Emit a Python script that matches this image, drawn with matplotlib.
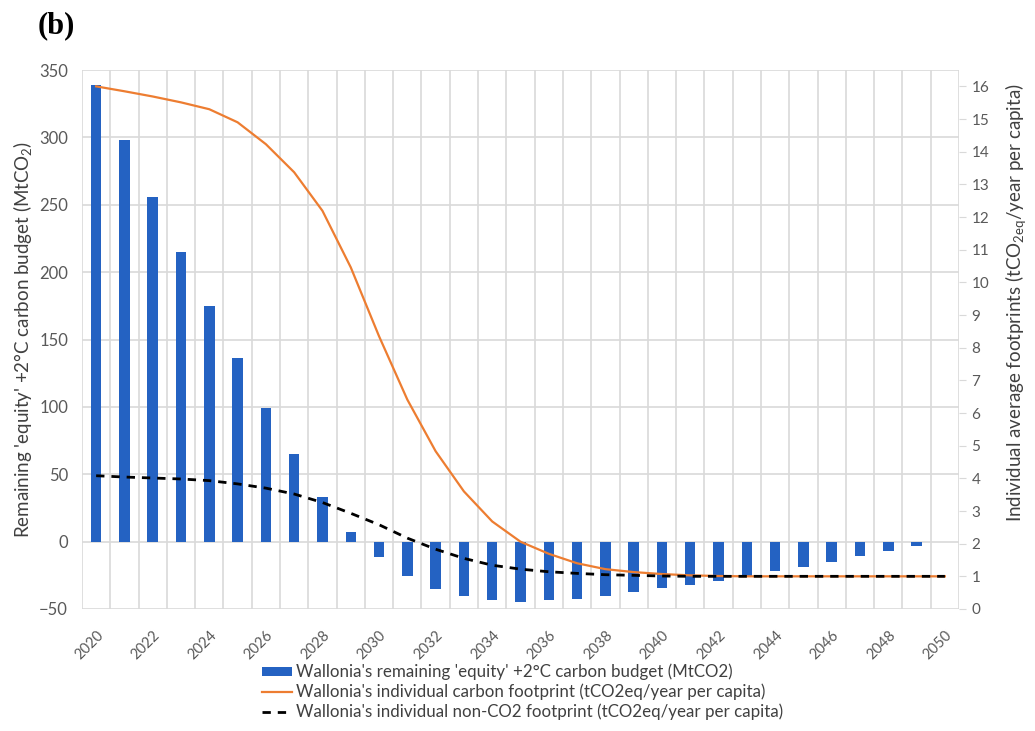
import numpy as np
import matplotlib
matplotlib.use("Agg")
import matplotlib.pyplot as plt

plt.rcParams['font.family'] = ['Lato', 'DejaVu Sans']
plt.rcParams['mathtext.default'] = 'regular'

years = list(range(2020, 2051))
budget = [339, 298, 256, 215, 175, 136, 99, 65, 33, 7.5,
          -11.5, -25.5, -35.5, -40.5, -43.5, -44.5, -43.5, -42.5, -40, -37.5,
          -34.5, -32, -29, -25.5, -22, -18.5, -15, -11, -7, -3.5, -0.5]
carbon = [16.0, 15.85, 15.69, 15.51, 15.3, 14.9, 14.23, 13.37, 12.19, 10.46,
          8.35, 6.41, 4.83, 3.6, 2.68, 2.06, 1.69, 1.40, 1.22, 1.13,
          1.07, 1.03, 1.01, 1.0, 1.0, 1.0, 1.0, 1.0, 1.0, 1.0, 1.0]
non_co2 = [4.08, 4.04, 4.01, 3.98, 3.93, 3.83, 3.70, 3.52, 3.26, 2.93,
           2.58, 2.17, 1.83, 1.55, 1.34, 1.22, 1.14, 1.09, 1.05, 1.03,
           1.01, 1.0, 1.0, 1.0, 1.0, 1.0, 1.0, 1.0, 1.0, 1.0, 1.0]

lab_bar = "Wallonia's remaining 'equity' +2°C carbon budget (MtCO2)"
lab_carbon = "Wallonia's individual carbon footprint (tCO2eq/year per capita)"
lab_non = "Wallonia's individual non-CO2 footprint (tCO2eq/year per capita)"

grey = '#595959'
grid_c = '#d9d9d9'

fig = plt.figure(figsize=(10.35, 7.31), dpi=100)
ax1 = fig.add_axes([0.0792, 0.1669, 0.8474, 0.7373])
ax2 = ax1.twinx()

x = np.arange(len(years))
bars = ax1.bar(x, budget, width=0.37, color='#2462C2', zorder=2, label=lab_bar)

ax1.set_xlim(-0.5, len(years) - 0.5)
ax1.set_ylim(-50, 350)
ax1.set_yticks(range(-50, 351, 50))
ax1.set_xticks(x[::2])
ax1.set_xticklabels([str(y) for y in years[::2]], rotation=45, ha='right',
                    rotation_mode='anchor', color=grey, fontsize=10.5)
ax1.tick_params(axis='x', length=0, pad=14)
ax1.tick_params(axis='y', length=0, labelsize=12, labelcolor=grey, pad=10)
ax1.grid(axis='y', color=grid_c, linewidth=1.2, zorder=0)
# category boundaries as vertical grid
ax1.vlines(np.append(x - 0.5, x[-1] + 0.5), -50, 350, color=grid_c,
           linewidth=1.2, zorder=0)
ax1.set_axisbelow(True)
ax1.set_ylabel("Remaining 'equity' +2°C carbon budget (MtCO$_2$)",
               fontsize=13.5, color='#404040', labelpad=4)

l1, = ax2.plot(x, carbon, color='#ED7D31', linewidth=1.6, zorder=3, label=lab_carbon)
l2, = ax2.plot(x, non_co2, color='black', linewidth=2, linestyle=(0, (3, 2.5)),
               zorder=4, label=lab_non)
ax2.set_ylim(0, 16.5)
ax2.set_yticks(range(0, 17))
ax2.tick_params(axis='y', length=5, color=grid_c, labelsize=11, labelcolor=grey, pad=4)
ax2.set_ylabel("Individual average footprints (tCO$_{2eq}$/year per capita)",
               fontsize=13.5, color='#404040')
ax2.yaxis.set_label_coords(1.05, 0.568)

for a in (ax1, ax2):
    for s in a.spines.values():
        s.set_visible(False)

fig.legend(handles=[bars, l1, l2], labels=[lab_bar, lab_carbon, lab_non],
           loc='upper left', bbox_to_anchor=(0.253, 0.092), frameon=False,
           fontsize=12.2, labelcolor='#404040', handlelength=1.75,
           handleheight=0.4, handletextpad=0.25, labelspacing=0.2,
           borderaxespad=0, borderpad=0)

fig.text(0.036, 0.985, "(b)", family='Liberation Serif', fontweight='bold',
         fontsize=22, va='top', ha='left')

fig.savefig("out.png", dpi=100)
